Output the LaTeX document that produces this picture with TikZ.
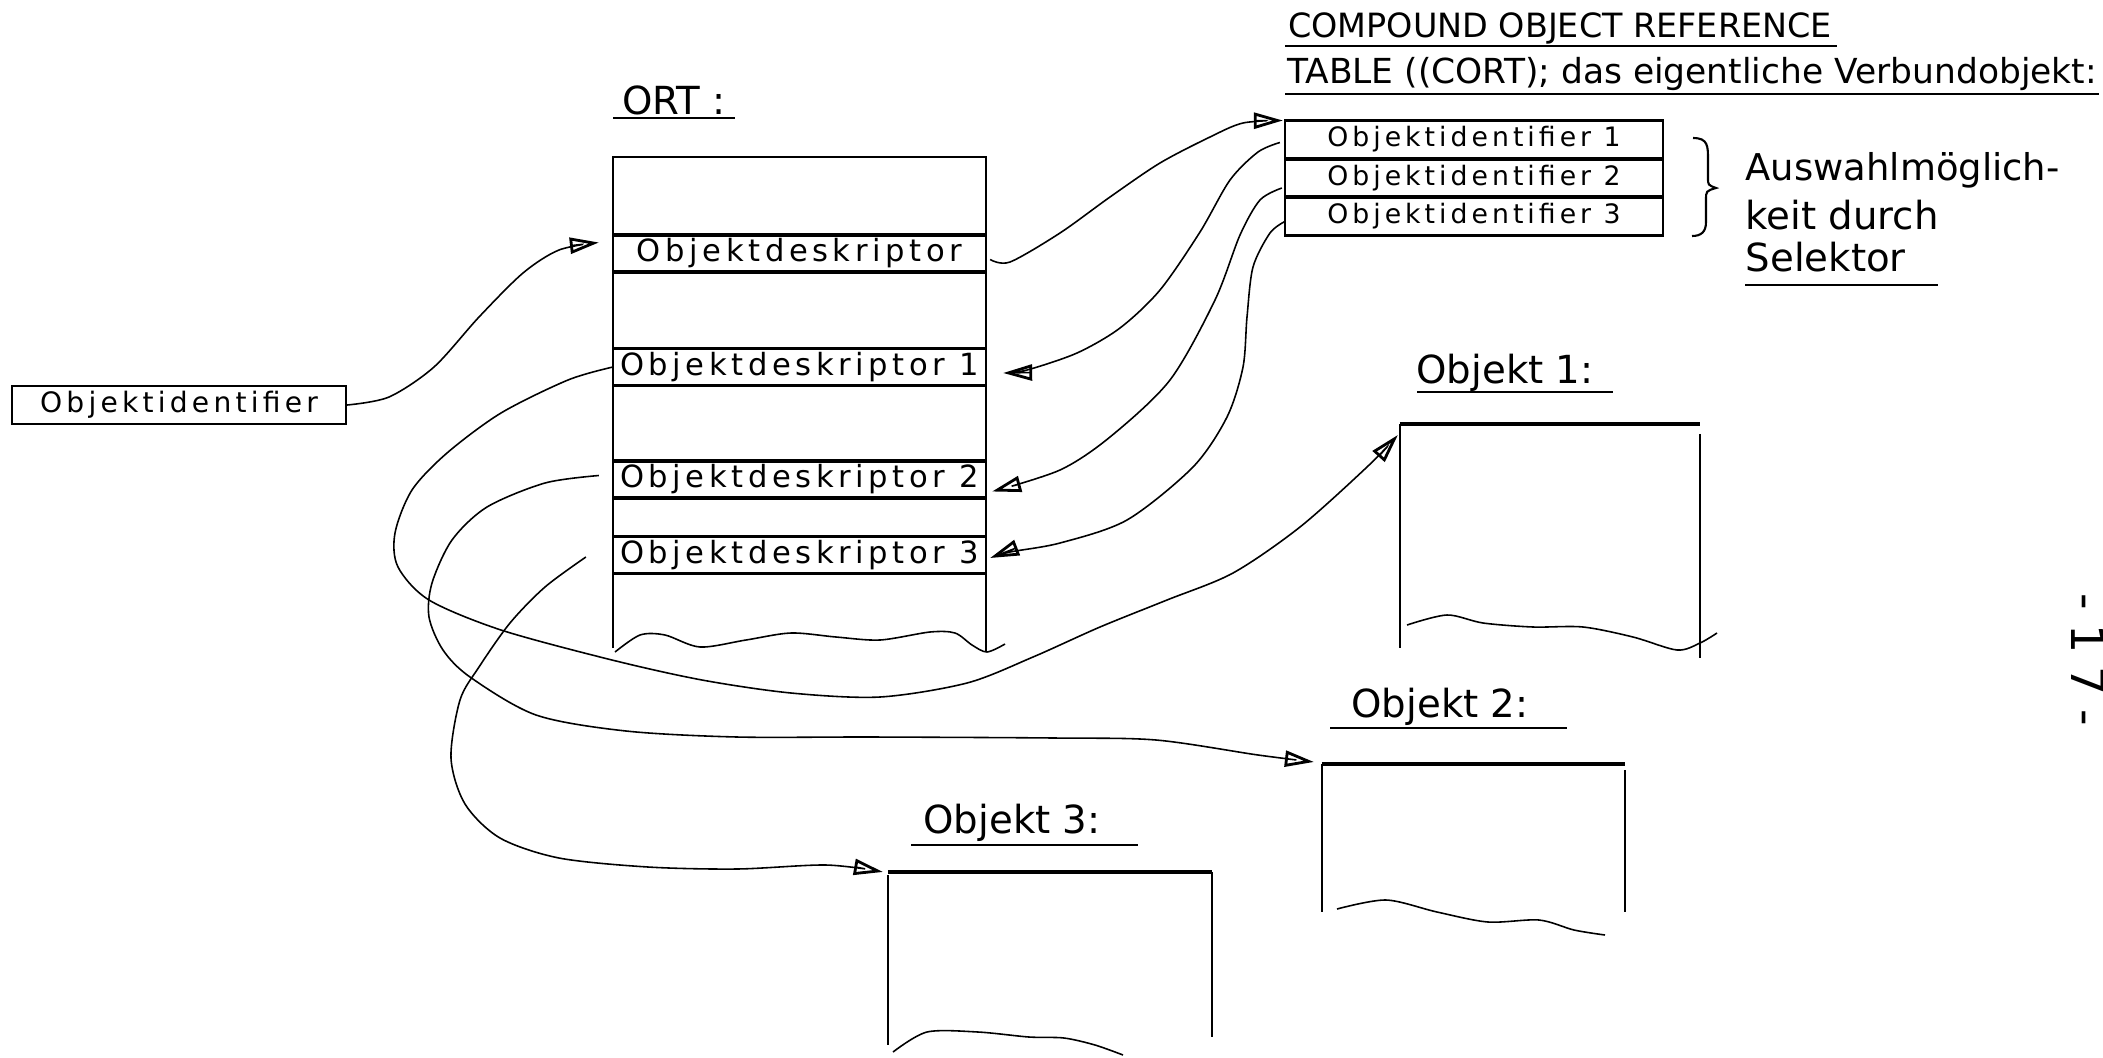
\documentclass[tikz,border=0pt]{standalone}
\usepackage{fontspec}
\setmainfont{DejaVu Sans}
\newfontfamily\handw{DejaVu Sans}[LetterSpace=15]
\newfontfamily\handx{DejaVu Sans}[LetterSpace=30]
\usetikzlibrary{arrows.meta}

\tikzset{
  boxline/.style={line width=0.6pt},
  rowline/.style={line width=1.1pt},
  wavy/.style={line width=0.45pt},
  conn/.style={line width=0.45pt, -{Triangle[open, length=2.9mm, width=1.6mm, line width=0.8pt]}},
  frame/.style={inner sep=0pt, outer sep=0pt},
  ortrow/.style={frame, minimum width=3.73cm, minimum height=0.37cm, font=\handw\fontsize{8.7}{10}\selectfont},
  cortrow/.style={frame, minimum width=3.78cm, minimum height=0.38cm, font=\handw\fontsize{7.6}{9}\selectfont},
  head/.style={inner sep=0pt, font=\fontsize{11}{13}\selectfont},
}

\begin{document}
\begin{tikzpicture}[x=0.01cm, y=-0.01cm]
\useasboundingbox (0,0) rectangle (2103,1057);

% Headings
\node[head] (ortlbl) at (674,100) {ORT :};
\draw[boxline] (613,118) -- (735,118);
\node[inner sep=0pt, font=\fontsize{9.5}{11}\selectfont] (cortlbl) at (1560,28) {COMPOUND OBJECT REFERENCE};
\draw[boxline] (1285,46) -- (1837,46);
\node[inner sep=0pt, font=\fontsize{9.8}{11}\selectfont] (tablbl) at (1692,74) {TABLE ((CORT); das eigentliche Verbundobjekt:};
\draw[boxline] (1285,94) -- (2099,94);

% ORT table
\node[frame, minimum width=3.73cm, minimum height=4.91cm] (ort) at (799.5,402.5) {};
\draw[boxline] (ort.south west) -- (ort.north west) -- (ort.north east) -- ([yshift=-0.04cm]ort.south east);
\draw[wavy] plot[smooth] coordinates {(615,652) (640,635) (665,635) (700,647) (746,640) (791,633) (836,637) (880,640) (930,632) (955,633) (972,645) (987,652) (1005,644)};
\foreach \n/\y/\t in {0/253.5/{Objektdeskriptor}, 1/367/{Objektdeskriptor 1}, 2/479.5/{Objektdeskriptor 2}, 3/555/{Objektdeskriptor 3}} {
  \node[ortrow] (od\n) at (799.5,\y) {\t};
  \draw[rowline] (od\n.north west) -- (od\n.north east) (od\n.south west) -- (od\n.south east);
}

% CORT table
\foreach \n/\y in {1/139.5, 2/178, 3/216.5} {
  \node[cortrow] (ci\n) at (1474,\y) {Objektidentifier \n};
  \draw[rowline] (ci\n.north west) -- (ci\n.north east) (ci\n.south west) -- (ci\n.south east);
}
\draw[boxline] (ci1.north west) rectangle (ci3.south east);

% Selector remark
\draw[boxline] (1693,138) .. controls (1708,138) and (1708,146) .. (1708,160) -- (1708,178)
  .. controls (1708,185) .. (1716,188) .. controls (1706,191) .. (1706,200) -- (1706,222)
  .. controls (1706,232) and (1701,236) .. (1692,236);
\node[head, anchor=west, font=\fontsize{10.5}{13}\selectfont] (sel1) at (1745,170) {Auswahlmöglich-};
\node[head, anchor=west] (sel2) at (1745,215) {keit durch};
\node[head, anchor=west] (sel3) at (1745,257) {Selektor};
\draw[boxline] (1745,285) -- (1938,285);

% Object identifier
\node[draw, boxline, minimum width=3.34cm, minimum height=0.38cm, inner sep=0pt, font=\handw\fontsize{8}{9}\selectfont] (oid) at (179,405) {Objektidentifier};

% Objects
\node[head] (lbl1) at (1505,373) {Objekt 1:};
\draw[boxline] (1417,392) -- (1613,392);
\node[frame, minimum width=3cm, minimum height=2.14cm] (obj1) at (1550,531) {};
\draw[rowline] (obj1.north west) -- (obj1.north east);
\draw[boxline] (obj1.north west) -- ([yshift=-0.1cm]obj1.south west) ([yshift=-0.1cm]obj1.north east) -- ([yshift=-0.2cm]obj1.south east);
\draw[wavy] plot[smooth] coordinates {(1407,625) (1447,615) (1483,623) (1533,627) (1583,627) (1633,637) (1677,650) (1700,643) (1717,633)};

\node[head] (lbl2) at (1440,707) {Objekt 2:};
\draw[boxline] (1330,728) -- (1567,728);
\node[frame, minimum width=3.03cm, minimum height=1.48cm] (obj2) at (1473.5,838) {};
\draw[rowline] (obj2.north west) -- (obj2.north east);
\draw[boxline] (obj2.north west) -- (obj2.south west) ([yshift=-0.06cm]obj2.north east) -- (obj2.south east);
\draw[wavy] plot[smooth] coordinates {(1337,909) (1386,900) (1437,912) (1488,922) (1539,920) (1574,930) (1605,935)};

\node[head] (lbl3) at (1012,823) {Objekt 3:};
\draw[boxline] (911,845) -- (1138,845);
\node[frame, minimum width=3.24cm, minimum height=1.73cm] (obj3) at (1050,958.5) {};
\draw[rowline] (obj3.north west) -- (obj3.north east);
\draw[boxline] ([yshift=-0.03cm]obj3.north west) -- (obj3.south west) (obj3.north east) -- ([yshift=0.08cm]obj3.south east);
\draw[wavy] plot[smooth] coordinates {(893,1052) (927,1032) (978,1032) (1029,1037) (1064,1038) (1095,1045) (1123,1055)};

% Page number
\node[rotate=-90, inner sep=0pt, font=\handx\fontsize{13}{14}\selectfont] (pgno) at (2088,660) {-17-};

% Pointers
\draw[conn] plot[smooth] coordinates {(oid.east) (389,397) (434,367) (479,317) (523,273) (559,250) ([shift={(-14,-11)}]od0.west)};
\draw[conn] plot[smooth] coordinates {([shift={(4,6)}]od0.east) (1010,262) (1060,233) (1110,197) (1160,163) (1210,137) (1243,123) ([xshift=-0.02cm]ci1.north west)};
\draw[conn] plot[smooth] coordinates {([shift={(-5,3)}]ci1.west) (1258,152) (1230,180) (1200,232) (1160,290) (1120,328) (1077,353) (1027,370) ([shift={(17,6)}]od1.east)};
\draw[conn] plot[smooth] coordinates {([shift={(-3,10)}]ci2.west) (1260,200) (1240,235) (1215,300) (1170,380) (1110,437) (1060,470) ([shift={(6,12)}]od2.east)};
\draw[conn] plot[smooth] coordinates {([shift={(0,5)}]ci3.west) (1270,233) (1253,267) (1247,317) (1243,367) (1227,417) (1193,467) (1127,520) (1060,543) (1010,552) ([shift={(4,3)}]od3.east)};
\draw[conn] plot[smooth] coordinates {(od1.west) (568,380) (501,413) (447,453) (412,490) (395,533) (398,567) (429,600) (501,630) (612,660) (702,680) (791,693) (880,697) (967,683) (1033,657) (1100,627) (1167,600) (1233,573) (1300,527) (1367,467) ([shift={(-2,11)}]obj1.north west)};
\draw[conn] plot[smooth] coordinates {([shift={(-14,-4)}]od2.west) (545,483) (487,507) (452,540) (432,583) (429,617) (443,650) (470,677) (536,715) (626,731) (737,737) (871,737) (1054,738) (1156,740) (1258,755) ([shift={(-8,-2)}]obj2.north west)};
\draw[conn] plot[smooth] coordinates {([shift={(-27,2)}]od3.west) (545,587) (510,623) (479,667) (460,700) (451,758) (465,804) (500,838) (559,858) (648,867) (737,869) (826,865) ([shift={(-5,0)}]obj3.north west)};

\end{tikzpicture}
\end{document}
